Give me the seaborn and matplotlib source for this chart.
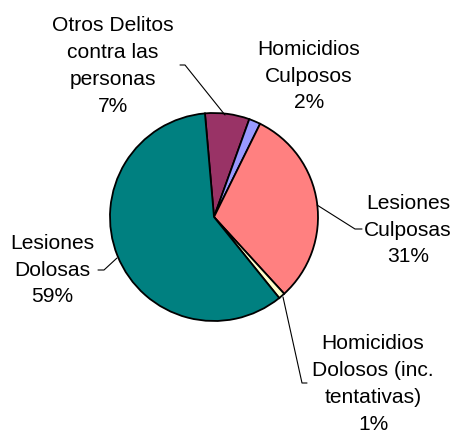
import matplotlib
matplotlib.use("Agg")
import matplotlib.pyplot as plt
import seaborn as sns

categories = ["Otros Delitos\ncontra las\npersonas", "Homicidios\nCulposos",
              "Lesiones\nCulposas", "Homicidios\nDolosos (inc.\ntentativas)",
              "Lesiones\nDolosas"]
values = [6.9, 1.8, 30.9, 1.0, 59.4]
colors = ["#993366", "#9999FF", "#FF8080", "#FFFFCC", "#008080"]

sns.set_theme(style="white")
plt.rcParams['font.family'] = ['Liberation Sans', 'DejaVu Sans']

W, H = 457, 433
fig = plt.figure(figsize=(W / 100, H / 100), dpi=100)
ax = fig.add_axes([0, 0, 1, 1])

cx, cy, r = 214, H - 217, 104
ax.pie(values, colors=colors, startangle=95, counterclock=False,
       center=(cx, cy), radius=r, frame=True,
       wedgeprops=dict(edgecolor="black", linewidth=1.3))
ax.set_xlim(0, W)
ax.set_ylim(0, H)
ax.set_aspect("equal")
ax.axis("off")

# label positions (pixel coords from top)
label_pos = [(113, 66), (309, 76), (408, 230), (373, 384), (52, 270)]
for name, v, (x, y) in zip(categories, values, label_pos):
    ax.text(x, H - y, f"{name}\n{v:.0f}%", ha="center", va="center",
            fontsize=15.1, linespacing=1.52, color="black")

leaders = [
    [(180, 65), (185, 65), (225, 115)],
    [(362, 229), (355, 229), (317, 205)],
    [(307, 383), (302, 383), (283, 297)],
    [(98, 270), (104, 270), (117, 258)],
]
for pts in leaders:
    xs = [p[0] for p in pts]
    ys = [H - p[1] for p in pts]
    ax.plot(xs, ys, color="black", lw=0.8)

fig.savefig("out.png", dpi=100)
